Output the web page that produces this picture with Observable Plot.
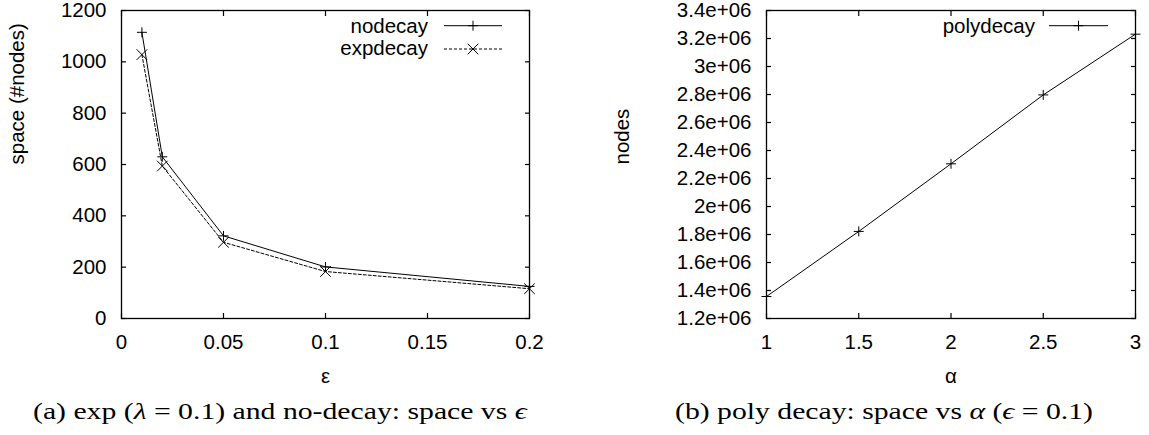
<!DOCTYPE html>
<html><head><meta charset="utf-8">
<script src="https://cdn.jsdelivr.net/npm/d3@7"></script>
<script src="https://cdn.jsdelivr.net/npm/@observablehq/plot@0.6"></script>
<style>
html,body{margin:0;padding:0;background:#fff;}
#root{position:relative;width:1149px;height:435px;overflow:hidden;background:#fff;}
#root > svg{position:absolute;top:0;}
</style></head><body><div id="root"></div>
<script>
// ---- data ----
const eps = [0.01, 0.02, 0.05, 0.1, 0.2];
const nodecay = [1115, 630, 322, 201, 125];
const expdecay = [1028, 594, 297, 183, 116];

const alpha = [1, 1.5, 2, 2.5, 3];
const polydecay = [1357000, 1822000, 2305000, 2797000, 3231000];

const epsTicks = [0, 0.05, 0.1, 0.15, 0.2];
const epsTickLabels = ["0", "0.05", "0.1", "0.15", "0.2"];
const spaceTicks = [0, 200, 400, 600, 800, 1000, 1200];
const spaceTickLabels = ["0", "200", "400", "600", "800", "1000", "1200"];
const alphaTicks = [1, 1.5, 2, 2.5, 3];
const alphaTickLabels = ["1", "1.5", "2", "2.5", "3"];
const nodeTicks = [1200000, 1400000, 1600000, 1800000, 2000000, 2200000, 2400000, 2600000, 2800000, 3000000, 3200000, 3400000];
const nodeTickLabels = ["1.2e+06", "1.4e+06", "1.6e+06", "1.8e+06", "2e+06", "2.2e+06", "2.4e+06", "2.6e+06", "2.8e+06", "3e+06", "3.2e+06", "3.4e+06"];

const seriesA = ["nodecay", "expdecay"];
const seriesB = ["polydecay"];
const xLabelA = "ε", yLabelA = "space (#nodes)";
const xLabelB = "α", yLabelB = "nodes";

// ---- styling ----
const sans = "'Liberation Sans', Arial, Helvetica, sans-serif";
const serif = "'Liberation Serif', 'Times New Roman', serif";
const fs = 20.5;
const plusR = 3.3, timesR = 4.9;

const leftData = eps.map((e, i) => ({eps: e, nodecay: nodecay[i], expdecay: expdecay[i]}));
const rightData = alpha.map((a, i) => ({alpha: a, polydecay: polydecay[i]}));

function lab(ticks, labels) { return d => labels[ticks.indexOf(d)]; }

function frameMarks(xt, xl, yt, yl, ypad) {
  return [
    Plot.axisX(xt, {anchor: "bottom", tickSize: 5, dy: -5, tickPadding: 16, tickFormat: lab(xt, xl), label: null, strokeWidth: 1.2}),
    Plot.axisX(xt, {anchor: "top", tickSize: 5, dy: 5, tickFormat: () => "", label: null, strokeWidth: 1.2}),
    Plot.axisY(yt, {anchor: "left", tickSize: 5, dx: 5, tickPadding: ypad, tickFormat: lab(yt, yl), label: null, strokeWidth: 1.2}),
    Plot.axisY(yt, {anchor: "right", tickSize: 5, dx: -5, tickFormat: () => "", label: null, strokeWidth: 1.2}),
    Plot.frame({stroke: "black", strokeWidth: 1.3})
  ];
}

const root = document.getElementById("root");

const left = Plot.plot({
  width: 560, height: 360,
  marginLeft: 121, marginRight: 31, marginTop: 10, marginBottom: 42,
  style: {fontFamily: sans, fontSize: fs + "px", color: "black", background: "transparent", overflow: "visible"},
  x: {domain: [0, 0.2]},
  y: {domain: [0, 1200]},
  marks: [
    ...frameMarks(epsTicks, epsTickLabels, spaceTicks, spaceTickLabels, 15),
    Plot.line(leftData, {x: "eps", y: "nodecay", stroke: "black", strokeWidth: 1}),
    Plot.line(leftData, {x: "eps", y: "expdecay", stroke: "black", strokeWidth: 1, strokeDasharray: "3,2"}),
    Plot.dot(leftData, {x: "eps", y: "nodecay", symbol: "plus", r: plusR, stroke: "black", fill: "none", strokeWidth: 1}),
    Plot.dot(leftData, {x: "eps", y: "expdecay", symbol: "times", r: timesR, stroke: "black", fill: "none", strokeWidth: 1}),
    Plot.text([xLabelA], {text: d => d, frameAnchor: "bottom", dy: 64, lineAnchor: "bottom", fontSize: fs, fill: "black"}),
    Plot.text([yLabelA], {text: d => d, frameAnchor: "left", dx: -97.5, rotate: -90, lineAnchor: "bottom", fontSize: fs, fill: "black"})
  ]
});
left.style.left = "0px";
root.appendChild(left);

const right = Plot.plot({
  width: 589, height: 360,
  marginLeft: 206, marginRight: 14, marginTop: 10, marginBottom: 42,
  style: {fontFamily: sans, fontSize: fs + "px", color: "black", background: "transparent", overflow: "visible"},
  x: {domain: [1, 3]},
  y: {domain: [1200000, 3400000]},
  marks: [
    ...frameMarks(alphaTicks, alphaTickLabels, nodeTicks, nodeTickLabels, 15),
    Plot.line(rightData, {x: "alpha", y: "polydecay", stroke: "black", strokeWidth: 1}),
    Plot.dot(rightData, {x: "alpha", y: "polydecay", symbol: "plus", r: plusR, stroke: "black", fill: "none", strokeWidth: 1}),
    Plot.text([xLabelB], {text: d => d, frameAnchor: "bottom", dy: 64, lineAnchor: "bottom", fontSize: fs, fill: "black"}),
    Plot.text([yLabelB], {text: d => d, frameAnchor: "left", dx: -137.5, rotate: -90, lineAnchor: "bottom", fontSize: fs, fill: "black"})
  ]
});
right.style.left = "560px";
root.appendChild(right);

// ---- legends and captions overlay ----
const ov = d3.select(root).append("svg")
  .attr("width", 1149).attr("height", 435)
  .style("position", "absolute").style("left", "0px").style("top", "0px");

function legendRow(g, label, textX, baseY, lineY, x1, x2, mx, dash, sym, r) {
  g.append("text").attr("x", textX).attr("y", baseY).attr("text-anchor", "end")
    .attr("font-family", sans).attr("font-size", fs).attr("fill", "black").text(label);
  g.append("line").attr("x1", x1).attr("x2", x2).attr("y1", lineY).attr("y2", lineY)
    .attr("stroke", "black").attr("stroke-width", 1).attr("stroke-dasharray", dash);
  g.append("path").attr("d", d3.symbol(sym, Math.PI * r * r)())
    .attr("transform", `translate(${mx},${lineY})`).attr("fill", "none").attr("stroke", "black").attr("stroke-width", 1);
}
legendRow(ov, seriesA[0], 428, 33, 25.7, 444, 502, 473, null, d3.symbolPlus, plusR);
legendRow(ov, seriesA[1], 428, 54.5, 49, 444, 502, 473, "3,2", d3.symbolTimes, timesR);
legendRow(ov, seriesB[0], 1035, 33, 25.7, 1049, 1108, 1078.5, null, d3.symbolPlus, plusR);

function caption(parts, x0, targetW, baseY) {
  const t = ov.append("text").attr("x", x0).attr("y", baseY)
    .attr("font-family", serif).attr("font-size", 24).attr("fill", "black")
    .attr("xml:space", "preserve");
  parts.forEach(([s, it]) => {
    const ts = t.append("tspan").text(s);
    if (it) ts.attr("font-style", "italic");
  });
  const w = t.node().getComputedTextLength();
  if (w > 0) t.attr("transform", `translate(${x0},0) scale(${targetW / w},1) translate(${-x0},0)`);
}
caption([["(a) exp ("], ["λ", true], [" = 0.1) and no-decay: space vs "], ["ϵ", true]], 33, 494, 419);
caption([["(b) poly decay: space vs "], ["α", true], [" ("], ["ϵ", true], [" = 0.1)"]], 675, 418, 419);
</script>
</body></html>
